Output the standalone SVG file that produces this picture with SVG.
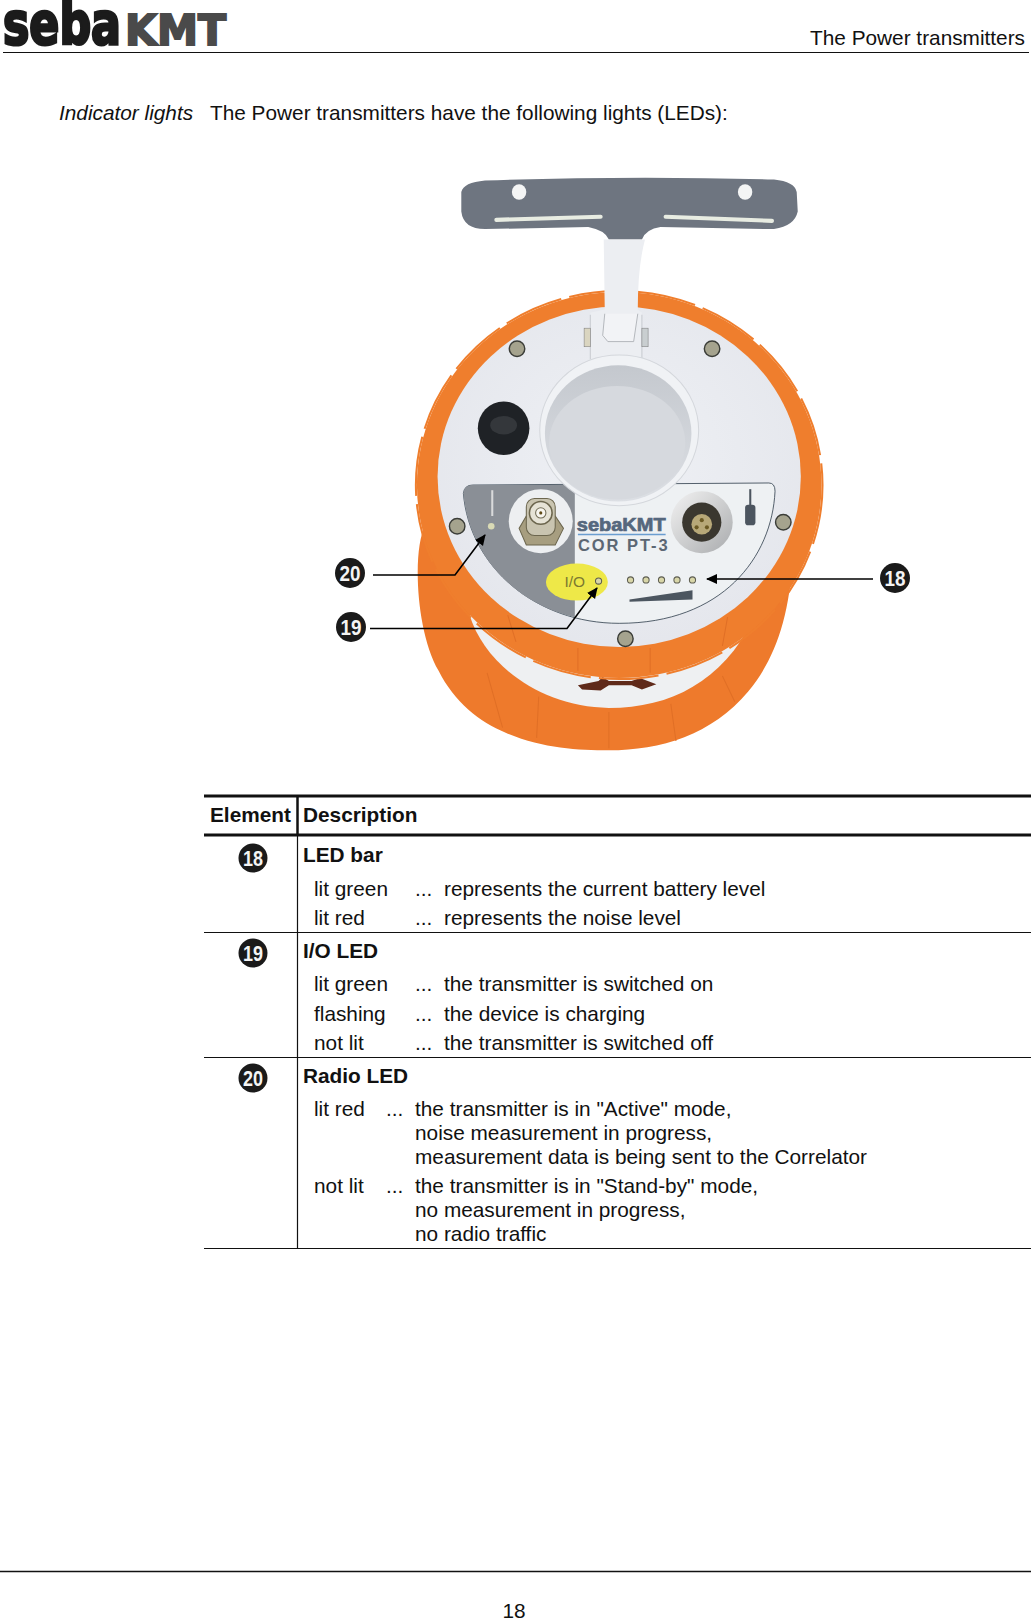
<svg xmlns="http://www.w3.org/2000/svg" width="1031" height="1619" viewBox="0 0 1031 1619">
<defs>
<style>
text{font-family:"Liberation Sans",Arial,sans-serif;fill:#111}
.t{font-size:20.8px}
.b{font-size:20.8px;font-weight:bold}
.i{font-size:20.8px;font-style:italic}
.n{font-size:22px;font-weight:bold;fill:#f4f4f4;text-anchor:middle}
.d{fill:#1a1a1a}
.ln{stroke:#111;fill:none}
.con{stroke:#000;stroke-width:1.6;fill:none;marker-end:url(#ah)}
.scr{fill:#a5a38e;stroke:#3b3d38;stroke-width:1.4}
.led{fill:#d8d6a8;stroke:#5d5d50;stroke-width:1}
.seg{stroke:#e06f26;stroke-width:1;fill:none}
</style>
<marker id="ah" markerWidth="12" markerHeight="12" refX="10" refY="5" orient="auto" markerUnits="userSpaceOnUse"><path d="M0 0L11 5L0 10Z" fill="#000"/></marker>
<radialGradient id="fc" cx=".5" cy=".45" r=".6"><stop offset="0" stop-color="#eff1f5"/><stop offset="1" stop-color="#e4e6ec"/></radialGradient>
<linearGradient id="silver" x1="0" y1="0" x2="1" y2="1"><stop offset="0" stop-color="#f3f3f3"/><stop offset="1" stop-color="#a9abad"/></linearGradient>
<linearGradient id="cup" x1="0" y1="0" x2="0" y2="1"><stop offset="0" stop-color="#c4c8ce"/><stop offset="1" stop-color="#dcdfe4"/></linearGradient>
</defs>
<g id="header">
<text x="3" y="44" font-size="58" font-weight="bold" textLength="118" lengthAdjust="spacingAndGlyphs" style="font-family:'DejaVu Sans',sans-serif;fill:#1b1b1b;stroke:#1b1b1b;stroke-width:3px">seba</text>
<text x="125" y="45" font-size="43" font-weight="bold" textLength="101" lengthAdjust="spacingAndGlyphs" style="font-family:'DejaVu Sans',sans-serif;fill:#4a4a4a;stroke:#4a4a4a;stroke-width:2px">KMT</text>
<text class="t" x="1025" y="45" text-anchor="end">The Power transmitters</text>
<line class="ln" x1="3" y1="52.5" x2="1029" y2="52.5" stroke-width="1.2"/>
</g>
<text class="i" x="59" y="120">Indicator lights</text>
<text class="t" x="210" y="120">The Power transmitters have the following lights (LEDs):</text>
<g id="device" transform="scale(1.032)">
<path d="M412 510C400 530 402 610 425 650C440 680 465 700 490 710C525 725 560 727 590 727C640 727 690 712 725 670C750 640 765 600 768 540Z" fill="#ee7a2c"/>
<path d="M455 596C470 645 525 685 590 686C650 686 700 660 730 600Z" fill="#eef0f2"/>
<path d="M472 652L487 705M522 675L520 715M590 690L590 725M650 682L655 718M700 655L712 680" class="seg"/>
<path d="M560 664L580 660L584 656L590 660L612 660L620 657L636 663L622 668L612 664L590 664L582 669L564 668Z" fill="#5f2a1a"/>
<ellipse cx="600" cy="470" rx="196" ry="187" fill="#ef7e2d"/>
<ellipse cx="600" cy="470" rx="197" ry="188" fill="none" stroke="#ef7e2d" stroke-width="2" stroke-dasharray="58 8"/>
<path d="M492 596L500 622M560 628L560 650M630 628L630 652M705 598L700 626" class="seg"/>
<ellipse cx="600" cy="462" rx="176" ry="165" fill="url(#fc)"/>
<path d="M447 186Q449 177 470 175Q610 170 750 174Q770 176 772 186L773 205Q770 219 750 222L640 220Q626 222 622 232L590 232Q586 223 570 220L470 222Q449 222 447 205Z" fill="#6e7580"/>
<ellipse cx="503" cy="186" rx="7" ry="7.5" fill="#f4f5f5"/><ellipse cx="722" cy="186" rx="7" ry="7.5" fill="#f4f5f5"/>
<path d="M481 213L582 210M645 210L748 214" stroke="#e8ece2" stroke-width="4" stroke-linecap="round" fill="none"/>
<path d="M585 232L586 300L572 303L572 355L622 355L622 303L618 300Q618 258 625 232Z" fill="#eceef2"/>
<path d="M586 304L584 325L589 331L614 331L618 304" fill="#f2f3f6" stroke="#a8abb0" stroke-width=".8"/>
<path d="M572 305V348M622 305V348" stroke="#c8cbd0" stroke-width="1"/>
<rect x="566" y="318" width="6" height="18" fill="#dad5c0" stroke="#777" stroke-width=".5"/><rect x="622" y="318" width="6" height="18" fill="#c9ced0" stroke="#777" stroke-width=".5"/>
<circle class="scr" cx="501" cy="338" r="7.5"/><circle class="scr" cx="690" cy="338" r="7.5"/><circle class="scr" cx="443" cy="510" r="7.5"/><circle class="scr" cx="759" cy="506" r="7.5"/><circle class="scr" cx="606" cy="619" r="7.5"/>
<ellipse cx="488" cy="415" rx="25" ry="26" fill="#1f2226"/><ellipse cx="488" cy="412" rx="13" ry="9" fill="#34373b"/>
<path d="M449 478Q450 470 458 470L745 468Q751 468 751 476C748 540 700 604 600 604C520 604 455 550 449 478Z" fill="#eef1f3" stroke="#33424f" stroke-width=".8"/>
<path d="M449 478Q450 470 458 470L557 470L557 598C500 585 455 540 449 478Z" fill="#8a8f96"/>
<ellipse cx="600" cy="417" rx="77" ry="73" fill="#f0f2f5" stroke="#d4d7dc" stroke-width="1"/>
<ellipse cx="599" cy="420" rx="71" ry="66" fill="url(#cup)"/>
<ellipse cx="598" cy="429" rx="66" ry="55" fill="#d6d9de"/>
<circle cx="524" cy="505" r="31" fill="#edeff1"/>
<path d="M503 512L510 500H538L546 512L538 528H510Z" fill="#a79e80" stroke="#6c664e"/>
<rect x="510" y="483" width="28" height="36" rx="8" fill="#c9c4b0" stroke="#6c664e"/>
<circle cx="524" cy="497" r="11" fill="#e6e3d6" stroke="#6c664e" stroke-width="1.5"/><circle cx="524" cy="497" r="5" fill="#f7f5ee" stroke="#6e6a54"/><circle cx="524" cy="497" r="1.5" fill="#5f4a16"/>
<path d="M477 475V500" stroke="#d9dadb" stroke-width="2"/><circle cx="476" cy="510" r="3.2" fill="#d9dab5"/>
<circle cx="680" cy="506" r="30" fill="url(#silver)"/><circle cx="680" cy="506" r="19" fill="#3a372f"/><circle cx="680" cy="508" r="10" fill="#b7a878"/><circle cx="680" cy="504" r="2" fill="#6b5a24"/><circle cx="675" cy="511" r="2" fill="#6b5a24"/><circle cx="685" cy="511" r="2" fill="#6b5a24"/>
<path d="M727 474V490" stroke="#4c555f" stroke-width="2"/><rect x="722" y="489" width="10" height="20" rx="3" fill="#4c555f"/>
<text x="559" y="515" font-size="18" font-weight="bold" textLength="86" lengthAdjust="spacingAndGlyphs" style="fill:#55677d;stroke:#55677d;stroke-width:.7px">sebaKMT</text>
<line x1="560" y1="518" x2="645" y2="518" stroke="#6a9dd0" stroke-width="1.5"/>
<text x="560" y="534" font-size="16" font-weight="bold" textLength="87" style="fill:#5c6773">COR PT-3</text>
<ellipse cx="559" cy="564" rx="30" ry="18" fill="#eee848"/>
<text x="547" y="569" font-size="15" style="fill:#7c7a30">I/O</text>
<circle class="led" cx="580" cy="563" r="3"/>
<circle class="led" cx="611" cy="562" r="3"/><circle class="led" cx="626" cy="562" r="3"/><circle class="led" cx="641" cy="562" r="3"/><circle class="led" cx="656" cy="562" r="3"/><circle class="led" cx="671" cy="562" r="3"/>
<path d="M610 581L671 572V581L610 583Z" fill="#4c5660"/>
</g>
<g id="connectors">
<path class="con" d="M373 575H455L485 535"/>
<path class="con" d="M370 628.5H567L597 588"/>
<path class="con" d="M873 579H707"/>
</g>
<g id="callout-20"><circle class="d" cx="350" cy="573" r="15"/><text class="n" x="350" y="581" textLength="21" lengthAdjust="spacingAndGlyphs">20</text></g>
<g id="callout-19"><circle class="d" cx="351" cy="627" r="15"/><text class="n" x="351" y="635" textLength="21" lengthAdjust="spacingAndGlyphs">19</text></g>
<g id="callout-18"><circle class="d" cx="895" cy="578" r="15"/><text class="n" x="895" y="586" textLength="21" lengthAdjust="spacingAndGlyphs">18</text></g>
<g id="table">
<line class="ln" x1="204" y1="796" x2="1031" y2="796" stroke-width="3"/>
<line class="ln" x1="204" y1="835" x2="1031" y2="835" stroke-width="3"/>
<line class="ln" x1="204" y1="932.5" x2="1031" y2="932.5" stroke-width="1.2"/>
<line class="ln" x1="204" y1="1057.5" x2="1031" y2="1057.5" stroke-width="1.2"/>
<line class="ln" x1="204" y1="1248.5" x2="1031" y2="1248.5" stroke-width="1.2"/>
<line class="ln" x1="297.5" y1="796" x2="297.5" y2="835" stroke-width="2.5"/>
<line class="ln" x1="297.5" y1="835" x2="297.5" y2="1248.5" stroke-width="1.2"/>
<text class="b" x="210" y="822">Element</text><text class="b" x="303" y="822">Description</text>
<g id="row-18"><circle class="d" cx="253" cy="858" r="14.5"/><text class="n" x="253" y="866" textLength="20" lengthAdjust="spacingAndGlyphs">18</text>
<text class="b" x="303" y="862">LED bar</text>
<text class="t" x="314" y="896">lit green</text><text class="t" x="415" y="896">...</text><text class="t" x="444" y="896">represents the current battery level</text>
<text class="t" x="314" y="925">lit red</text><text class="t" x="415" y="925">...</text><text class="t" x="444" y="925">represents the noise level</text></g>
<g id="row-19"><circle class="d" cx="253" cy="953" r="14.5"/><text class="n" x="253" y="961" textLength="20" lengthAdjust="spacingAndGlyphs">19</text>
<text class="b" x="303" y="958">I/O LED</text>
<text class="t" x="314" y="991">lit green</text><text class="t" x="415" y="991">...</text><text class="t" x="444" y="991">the transmitter is switched on</text>
<text class="t" x="314" y="1021">flashing</text><text class="t" x="415" y="1021">...</text><text class="t" x="444" y="1021">the device is charging</text>
<text class="t" x="314" y="1050">not lit</text><text class="t" x="415" y="1050">...</text><text class="t" x="444" y="1050">the transmitter is switched off</text></g>
<g id="row-20"><circle class="d" cx="253" cy="1078" r="14.5"/><text class="n" x="253" y="1086" textLength="20" lengthAdjust="spacingAndGlyphs">20</text>
<text class="b" x="303" y="1083">Radio LED</text>
<text class="t" x="314" y="1116">lit red</text><text class="t" x="386" y="1116">...</text><text class="t" x="415" y="1116">the transmitter is in "Active" mode,</text>
<text class="t" x="415" y="1140">noise measurement in progress,</text>
<text class="t" x="415" y="1164">measurement data is being sent to the Correlator</text>
<text class="t" x="314" y="1193">not lit</text><text class="t" x="386" y="1193">...</text><text class="t" x="415" y="1193">the transmitter is in "Stand-by" mode,</text>
<text class="t" x="415" y="1217">no measurement in progress,</text>
<text class="t" x="415" y="1241">no radio traffic</text></g>
</g>
<g id="footer">
<line class="ln" x1="0" y1="1571.5" x2="1031" y2="1571.5" stroke-width="1.6"/>
<text class="t" x="514" y="1618" text-anchor="middle">18</text>
</g>
</svg>
